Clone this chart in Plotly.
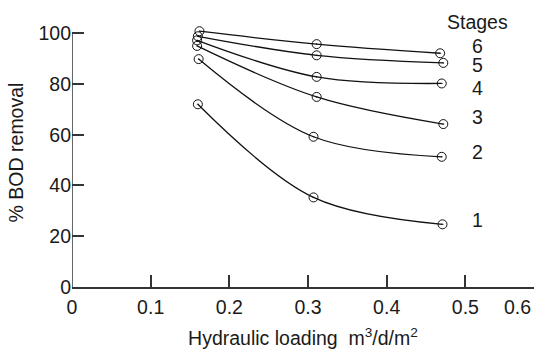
import plotly.graph_objects as go

# Data
stages = ["1", "2", "3", "4", "5", "6"]
x_s1 = [0.160, 0.307, 0.471]
y_s1 = [72.0, 35.3, 24.7]
x_s2 = [0.161, 0.307, 0.470]
y_s2 = [89.8, 59.2, 51.3]
x_s3 = [0.159, 0.311, 0.472]
y_s3 = [95.0, 74.9, 64.2]
x_s4 = [0.159, 0.311, 0.470]
y_s4 = [97.2, 82.8, 80.2]
x_s5 = [0.160, 0.311, 0.472]
y_s5 = [98.8, 91.3, 88.3]
x_s6 = [0.162, 0.311, 0.468]
y_s6 = [100.8, 95.7, 92.1]
label_y = [26.4, 53.1, 66.9, 78.3, 87.6, 94.8]
x_ticks = [0, 0.1, 0.2, 0.3, 0.4, 0.5]
y_ticks = [0, 20, 40, 60, 80, 100]

FONT = "Liberation Sans, Arial, Helvetica, sans-serif"
TXT = "#1a1a1a"
FS = 19.5

fig = go.Figure()
series = [(x_s1, y_s1), (x_s2, y_s2), (x_s3, y_s3), (x_s4, y_s4), (x_s5, y_s5), (x_s6, y_s6)]
for name, (xs, ys) in zip(stages, series):
    fig.add_trace(go.Scatter(
        x=xs, y=ys, mode="lines+markers", name=name,
        line=dict(color="#111111", width=1.3, shape="spline", smoothing=1.0),
        marker=dict(symbol="circle-open-dot", size=9, color="#111111",
                    line=dict(width=1, color="#111111")),
        cliponaxis=False, showlegend=False,
    ))

for name, ly in zip(stages, label_y):
    fig.add_annotation(x=0.515, y=ly, text=name, showarrow=False,
                       font=dict(family=FONT, size=FS, color=TXT), xanchor="center", yanchor="middle")
fig.add_annotation(x=0.515, y=104.3, text="Stages", showarrow=False,
                   font=dict(family=FONT, size=FS, color=TXT), xanchor="center", yanchor="middle")
# tick label beyond the visible axis end
fig.add_annotation(x=0.566, xref="x", y=0, yref="paper", yshift=-20, text="0.6", showarrow=False,
                   font=dict(family=FONT, size=FS, color=TXT), xanchor="center", yanchor="middle")

# y axis line only from 0 to 100
fig.add_shape(type="line", xref="x", yref="y", x0=0, x1=0, y0=0, y1=100,
              line=dict(color="#333333", width=1.5))

fig.update_layout(
    width=534, height=349,
    margin=dict(l=72, r=0, t=18, b=62),
    paper_bgcolor="white", plot_bgcolor="white",
    font=dict(family=FONT, size=FS, color=TXT),
    xaxis=dict(range=[0, 0.5873], tickvals=x_ticks, ticktext=["0", "0.1", "0.2", "0.3", "0.4", "0.5"],
               ticks="inside", ticklen=12, tickwidth=1.5, tickcolor="#333333",
               ticklabelstandoff=2,
               showline=True, linecolor="#333333", linewidth=1.5,
               showgrid=False, zeroline=False,
               title=dict(text="Hydraulic loading  m<sup>3</sup>/d/m<sup>2</sup>", standoff=16,
                          font=dict(family=FONT, size=FS, color=TXT))),
    yaxis=dict(range=[0, 106], tickvals=y_ticks,
               ticks="inside", ticklen=12, tickwidth=1.5, tickcolor="#333333",
               showline=False, showgrid=False, zeroline=False,
               title=dict(text="% BOD removal", standoff=9,
                          font=dict(family=FONT, size=FS, color=TXT))),
)

fig.write_html("out.html")
